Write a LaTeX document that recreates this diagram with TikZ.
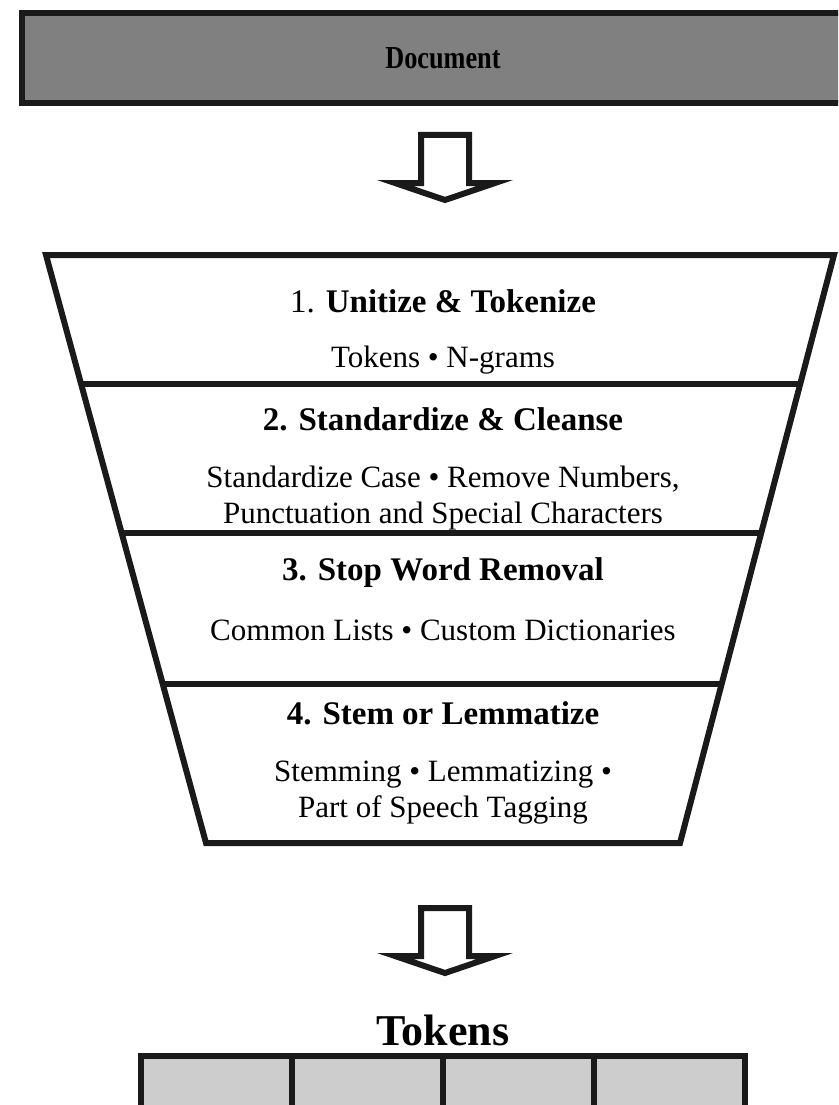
\documentclass[tikz,border=0pt]{standalone}
\usepackage{fontspec}
\usepackage{graphicx}
\setmainfont{Liberation Serif}
\usetikzlibrary{calc}

\definecolor{docgray}{HTML}{808080}
\definecolor{cellgray}{HTML}{CDCDCD}
\definecolor{inkblack}{HTML}{1A1A1A}

\tikzset{
  stageline/.style={draw=inkblack,line width=6pt,line join=miter},
  stagehead/.style={anchor=base,inner sep=0pt,font=\fontsize{33}{38}\selectfont\bfseries},
  stagetext/.style={anchor=base,inner sep=0pt,align=center,font=\fontsize{31}{36}\selectfont},
  blockarrow/.style={draw=inkblack,fill=white,line width=6pt,line join=miter},
}

\begin{document}
\begin{tikzpicture}[x=1pt,y=-1pt]
  \clip (0,0) rectangle (838,1105);

  % input box
  \node[stageline,fill=docgray,minimum width=842pt,minimum height=90pt,inner sep=0pt,
        font=\fontsize{32}{36}\selectfont\bfseries] (doc) at (443,58) {\scalebox{0.82}[1]{Document}};

  % funnel outline
  \coordinate (ftl) at (46,255);
  \coordinate (ftr) at (834,255);
  \coordinate (fbr) at (680,843);
  \coordinate (fbl) at (206,843);
  \draw[stageline] (ftl) -- (ftr) -- (fbr) -- (fbl) -- cycle;
  \foreach \t in {0.2194,0.4728,0.7296}
    \draw[stageline] ($(ftl)!\t!(fbl)$) -- ($(ftr)!\t!(fbr)$);

  % stage texts
  \node[stagehead] (h1) at (443,312) {\mdseries 1. \bfseries Unitize \& Tokenize};
  \node[stagetext] (b1) at (443,367) {Tokens • N-grams};
  \node[stagehead] (h2) at (443,430) {2. Standardize \& Cleanse};
  \node[stagetext] (b2) at (443,523) {Standardize Case • Remove Numbers,\\Punctuation and Special Characters};
  \node[stagehead] (h3) at (443,580) {3. Stop Word Removal};
  \node[stagetext] (b3) at (443,640) {Common Lists • Custom Dictionaries};
  \node[stagehead] (h4) at (443,724) {4. Stem or Lemmatize};
  \node[stagetext] (b4) at (443,817) {Stemming • Lemmatizing •\\Part of Speech Tagging};

  % block arrows
  \coordinate (arrA) at (445,135);
  \coordinate (arrB) at (445,908);
  \foreach \c in {arrA,arrB}
    \draw[blockarrow] (\c) ++(-24,0) -- ++(0,48) -- ++(-26,0) -- ++(50,17)
      -- ++(50,-17) -- ++(-26,0) -- ++(0,-48) -- cycle;

  % output tokens
  \node[anchor=base,inner sep=0pt,font=\fontsize{44}{48}\selectfont\bfseries] (tok) at (443,1045) {Tokens};
  \foreach \i in {0,...,3}
    \node[stageline,fill=cellgray,minimum width=151pt,minimum height=88pt] (cell\i)
      at ({141+151*\i+75.5},1100) {};
\end{tikzpicture}
\end{document}
